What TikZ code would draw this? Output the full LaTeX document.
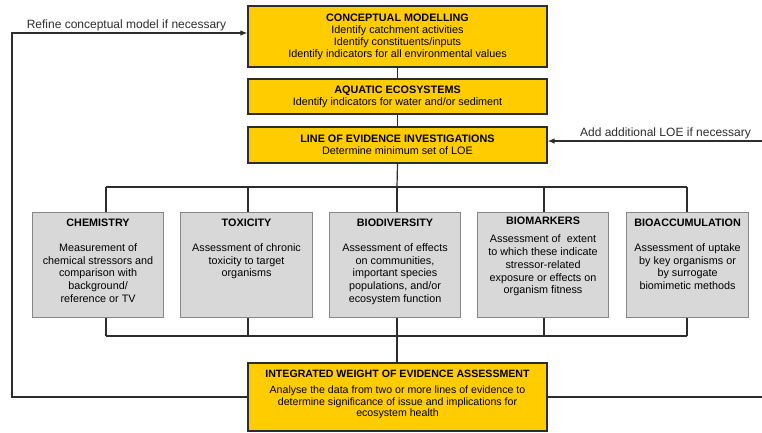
\documentclass[tikz,border=0pt]{standalone}
\usepackage{fontspec}
\setmainfont{Liberation Sans}
\usetikzlibrary{arrows.meta}
\definecolor{ybox}{RGB}{255,204,0}
\definecolor{gbox}{RGB}{216,216,216}
\definecolor{gline}{RGB}{135,135,135}
\definecolor{dline}{RGB}{45,45,45}
\newcommand{\gboxtext}[5]{\parbox[c][105pt][t]{#1}{\centering\rule{0pt}{#2}\textbf{#3}\\[#4]#5\par}}
\begin{document}
\begin{tikzpicture}[x=1pt,y=-1pt,
  ybx/.style={draw=dline, line width=1.1pt, fill=ybox, minimum width=299pt, inner sep=0pt,
    align=center, font=\fontsize{10.8}{12}\selectfont},
  gbx/.style={draw=gline, line width=1.1pt, fill=gbox, inner sep=0pt, anchor=north west,
    font=\fontsize{10.8}{12.7}\selectfont},
  conn/.style={draw=dline, line width=1.2pt},
  arr/.style={conn, -{Latex[length=7pt,width=5.5pt]}},
  lbl/.style={font=\fontsize{12}{14}\selectfont, text=dline, inner sep=0pt}]
\useasboundingbox (0,0) rectangle (762,433);

% yellow boxes
\node[ybx, minimum height=61pt] (concept) at (397.5,36.5)
  {\textbf{CONCEPTUAL MODELLING}\\Identify catchment activities\\Identify constituents/inputs\\Identify indicators for all environmental values};
\node[ybx, minimum height=35pt] (aqua) at (397.5,96.5)
  {\textbf{AQUATIC ECOSYSTEMS}\\Identify indicators for water and/or sediment};
\node[ybx, minimum height=36pt] (loe) at (397.5,145)
  {\textbf{LINE OF EVIDENCE INVESTIGATIONS}\\Determine minimum set of LOE};
\node[ybx, minimum height=68pt, font=\fontsize{10.6}{11.5}\selectfont] (integ) at (397.5,397)
  {\textbf{INTEGRATED WEIGHT OF EVIDENCE ASSESSMENT}\\[4.5pt]Analyse the data from two or more lines of evidence to\\determine significance of issue and implications for\\ecosystem health\rule[-7pt]{0pt}{7pt}};

% grey boxes
\node[gbx] (chem) at (32,212) {\gboxtext{131pt}{13.9pt}{CHEMISTRY}{12.2pt}{Measurement of\\chemical stressors and\\comparison with\\background/\\reference or TV}};
\node[gbx] (tox) at (180,212) {\gboxtext{132pt}{13.9pt}{TOXICITY}{12.2pt}{Assessment of chronic\\toxicity to target\\organisms}};
\node[gbx] (biod) at (329,212) {\gboxtext{131pt}{13.9pt}{BIODIVERSITY}{12.2pt}{Assessment of effects\\on communities,\\important species\\populations, and/or\\ecosystem function}};
\node[gbx] (biom) at (477,212) {\gboxtext{131pt}{11.9pt}{BIOMARKERS}{5.8pt}{Assessment of\ \ extent\\to which these indicate\\stressor-related\\exposure or effects on\\organism fitness}};
\node[gbx] (bioacc) at (626,212) {\gboxtext{122pt}{13.9pt}{BIOACCUMULATION}{12.2pt}{Assessment of uptake\\by key organisms or\\by surrogate\\biomimetic methods}};

% labels
\node[lbl] (reflbl) at (126.5,25) {Refine conceptual model if necessary};
\node[lbl] (addlbl) at (665.5,133) {Add additional LOE if necessary};

% bus coordinates
\coordinate (t1) at (106,187); \coordinate (t2) at (248,187); \coordinate (t3) at (397,187);
\coordinate (t4) at (544,187); \coordinate (t5) at (687,187);
\coordinate (b1) at (106,336); \coordinate (b2) at (248,336); \coordinate (b3) at (397,336);
\coordinate (b4) at (544,336); \coordinate (b5) at (687,336);
\coordinate (fl) at (12,397); \coordinate (fltop) at (12,33);
\coordinate (fr) at (762,397); \coordinate (fr2) at (762,141);

% connectors
\draw[conn] (concept.south) -- (aqua.north);
\draw[conn] (aqua.south) -- (loe.north);
\draw[conn] (loe.south) -- (t3);
\draw[conn] (t1) -- (t5);
\draw[conn] (t1) -- (chem.north -| t1);
\draw[conn] (t2) -- (tox.north -| t2);
\draw[conn] (t3) -- (biod.north -| t3);
\draw[conn] (t4) -- (biom.north -| t4);
\draw[conn] (t5) -- (bioacc.north -| t5);
\draw[conn] (chem.south -| b1) -- (b1);
\draw[conn] (tox.south -| b2) -- (b2);
\draw[conn] (biod.south -| b3) -- (b3);
\draw[conn] (biom.south -| b4) -- (b4);
\draw[conn] (bioacc.south -| b5) -- (b5);
\draw[conn] (b1) -- (b5);
\draw[conn] (b3) -- (integ.north -| b3);
\draw[arr] (integ.west) -- (fl) -- (fltop) -- ([yshift=3.5pt]concept.west);
\draw[conn] (integ.east) -- (fr);
\draw[arr] (fr2) -- ([yshift=4pt]loe.east);
\end{tikzpicture}
\end{document}
